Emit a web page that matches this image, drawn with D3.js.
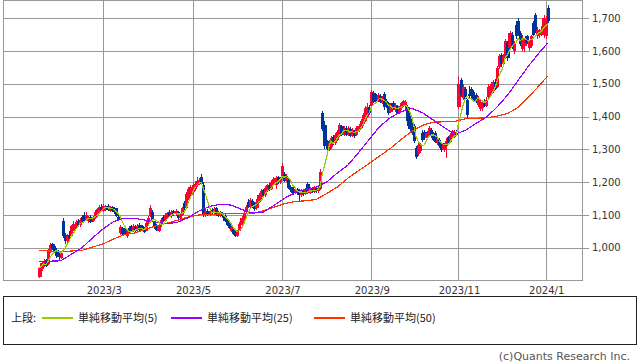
<!DOCTYPE html>
<html>
<head>
<meta charset="utf-8">
<script src="https://cdn.jsdelivr.net/npm/d3@7"></script>
<style>
  body { margin: 0; background: #fff; }
  svg { display: block; }
</style>
</head>
<body>
<div id="chart"></div>
<script>
// trading sessions: weekdays from startDate to endDate minus TSE holidays
const startDate = "2023-01-17";
const endDate = "2024-01-05";
const holidays = ["2023-02-23", "2023-03-21", "2023-05-03", "2023-05-04", "2023-05-05",
  "2023-07-17", "2023-08-11", "2023-09-18", "2023-10-09", "2023-11-03", "2023-11-23",
  "2024-01-01", "2024-01-02", "2024-01-03"];

const opens = [912,935,945,962,950,990,1010,1005,992,985,970,1080,1040,1020,1040,1035,1055,1062,1080,1068,
  1095,1100,1085,1080,1095,1080,1092,1100,1110,1125,1112,1118,1128,1112,1125,1118,1120,1095,1045,1060,
  1058,1035,1060,1065,1050,1062,1055,1070,1066,1058,1052,1072,1098,1108,1078,1068,1052,1068,1095,1082,
  1092,1110,1096,1112,1102,1110,1090,1100,1135,1122,1150,1160,1170,1180,1190,1195,1215,1190,1100,1112,
  1100,1115,1105,1120,1108,1098,1105,1098,1085,1075,1052,1058,1048,1036,1052,1068,1088,1108,1140,1128,
  1142,1132,1120,1138,1155,1175,1160,1175,1190,1180,1195,1192,1215,1200,1215,1225,1205,1208,1185,1180,
  1168,1178,1172,1160,1175,1165,1195,1168,1180,1170,1182,1172,1180,1412,1375,1325,1298,1308,1338,1318,
  1330,1342,1370,1345,1365,1345,1362,1342,1355,1345,1358,1366,1376,1388,1400,1430,1432,1472,1465,1448,
  1462,1442,1468,1448,1440,1415,1440,1420,1432,1412,1425,1432,1435,1430,1395,1375,1370,1305,1285,1295,
  1350,1352,1335,1345,1360,1345,1350,1318,1330,1318,1298,1310,1338,1322,1336,1338,1350,1430,1512,1458,
  1485,1450,1470,1485,1475,1465,1435,1422,1425,1448,1432,1460,1470,1478,1505,1490,1550,1588,1560,1582,
  1625,1610,1650,1600,1680,1692,1655,1605,1615,1645,1608,1615,1685,1710,1645,1648,1650,1650,1645,1730];
const highs = [941,956,965,966,995,1015,1015,1010,998,990,990,1090,1045,1042,1050,1070,1080,1085,1088,1092,
  1100,1108,1108,1098,1100,1096,1115,1122,1130,1132,1133,1130,1132,1127,1128,1124,1122,1100,1068,1064,
  1066,1055,1065,1070,1072,1068,1072,1076,1070,1062,1080,1098,1130,1115,1082,1072,1072,1092,1100,1106,
  1110,1115,1114,1116,1118,1112,1106,1125,1142,1170,1185,1190,1198,1205,1215,1212,1225,1200,1118,1118,
  1120,1120,1125,1125,1112,1112,1110,1102,1090,1080,1068,1062,1052,1055,1078,1096,1112,1130,1148,1152,
  1150,1140,1148,1168,1178,1180,1188,1195,1196,1206,1215,1220,1220,1215,1258,1230,1225,1212,1192,1185,
  1182,1182,1180,1180,1180,1182,1200,1185,1186,1188,1188,1188,1240,1418,1385,1330,1328,1340,1345,1350,
  1360,1380,1375,1372,1370,1372,1368,1365,1360,1370,1378,1392,1412,1432,1440,1436,1482,1478,1470,1472,
  1468,1462,1474,1455,1445,1440,1448,1442,1436,1432,1445,1452,1450,1435,1405,1385,1378,1310,1318,1320,
  1358,1358,1356,1370,1365,1352,1355,1338,1335,1322,1320,1335,1342,1350,1360,1358,1358,1522,1518,1498,
  1490,1455,1492,1490,1480,1472,1462,1455,1448,1455,1460,1498,1500,1512,1515,1555,1592,1595,1590,1638,
  1630,1662,1658,1632,1690,1700,1660,1648,1640,1650,1635,1650,1692,1715,1672,1668,1675,1710,1708,1740];
const lows = [908,930,940,940,948,985,993,985,968,962,965,1030,1012,1015,1025,1032,1050,1058,1062,1063,
  1078,1082,1080,1075,1075,1078,1088,1095,1105,1110,1108,1112,1112,1108,1108,1104,1095,1080,1038,1036,
  1040,1030,1042,1048,1048,1048,1050,1052,1050,1045,1050,1068,1095,1080,1058,1050,1048,1064,1078,1078,
  1088,1094,1092,1098,1098,1085,1086,1098,1115,1118,1145,1155,1165,1172,1185,1190,1190,1095,1095,1096,
  1096,1100,1102,1098,1094,1094,1092,1078,1066,1056,1048,1038,1032,1033,1050,1064,1085,1105,1120,1122,
  1122,1112,1115,1135,1150,1155,1156,1170,1172,1176,1190,1180,1195,1195,1212,1200,1200,1178,1170,1162,
  1164,1162,1138,1156,1158,1160,1165,1164,1168,1166,1168,1168,1176,1355,1300,1292,1294,1302,1312,1312,
  1325,1338,1340,1340,1340,1342,1338,1338,1336,1342,1352,1362,1372,1384,1395,1405,1428,1440,1445,1444,
  1440,1438,1420,1425,1405,1410,1420,1415,1408,1408,1420,1428,1418,1372,1355,1345,1318,1272,1280,1290,
  1322,1330,1330,1340,1335,1325,1318,1312,1305,1292,1292,1275,1318,1318,1332,1334,1340,1422,1460,1450,
  1450,1395,1455,1456,1450,1442,1428,1418,1418,1428,1428,1455,1465,1472,1480,1486,1545,1550,1552,1578,
  1570,1605,1605,1592,1638,1645,1615,1600,1598,1620,1600,1610,1645,1655,1638,1640,1645,1640,1638,1685];
const closes = [938,952,960,945,990,1008,998,990,975,972,985,1035,1020,1035,1030,1065,1072,1078,1068,1085,
  1080,1088,1100,1095,1078,1092,1108,1118,1125,1115,1128,1125,1115,1122,1112,1108,1098,1084,1062,1042,
  1045,1050,1048,1052,1065,1052,1065,1058,1055,1048,1075,1092,1120,1085,1062,1055,1068,1085,1082,1100,
  1105,1098,1110,1102,1112,1090,1100,1120,1120,1165,1180,1185,1190,1195,1205,1208,1195,1100,1112,1100,
  1112,1105,1118,1102,1098,1108,1096,1082,1070,1060,1062,1042,1036,1050,1072,1090,1105,1125,1125,1145,
  1128,1118,1140,1162,1172,1160,1182,1190,1178,1200,1210,1212,1200,1210,1250,1205,1220,1182,1175,1168,
  1178,1168,1160,1175,1165,1178,1170,1178,1172,1182,1172,1182,1232,1362,1310,1300,1320,1335,1318,1345,
  1352,1375,1345,1365,1345,1365,1342,1358,1342,1365,1372,1388,1405,1425,1430,1410,1475,1445,1450,1465,
  1445,1458,1428,1432,1412,1435,1425,1435,1412,1428,1440,1448,1445,1385,1362,1350,1325,1278,1312,1315,
  1328,1335,1350,1365,1340,1330,1322,1332,1310,1298,1315,1325,1322,1345,1355,1352,1345,1500,1465,1490,
  1455,1405,1462,1462,1455,1448,1455,1445,1440,1432,1452,1490,1492,1505,1485,1548,1585,1560,1585,1630,
  1580,1655,1615,1625,1645,1650,1622,1640,1635,1625,1630,1645,1650,1665,1665,1655,1665,1702,1700,1690];

// 25 / 50 session averages every 5 sessions (last one at the final session)
const ma25 = [959,959,960,980,1000,1030,1058,1080,1090,1089,1084,1078,1073,1078,1092,1112,1126,1133,1130,1117,
  1106,1108,1128,1150,1168,1178,1184,1200,1228,1252,1290,1330,1370,1397,1415,1425,1412,1390,1368,1346,
  1357,1378,1398,1428,1465,1510,1555,1595,1625];
const ma50 = [991,990,988,990,992,1002,1012,1027,1040,1045,1057,1067,1075,1084,1094,1100,1101,1103,1104,1104,
  1104,1112,1123,1134,1141,1143,1147,1165,1185,1212,1235,1257,1280,1303,1330,1355,1373,1383,1384,1385,
  1393,1395,1396,1401,1409,1428,1460,1495,1524];

const yTicks = [1000, 1100, 1200, 1300, 1400, 1500, 1600, 1700];
const tickMonths = [3, 5, 7, 9, 11, 1];

const upColor = "#ff0033";
const downColor = "#003399";
const lineColors = { ma5: "#99cc00", ma25: "#9900ff", ma50: "#ff3300" };

const W = 638, H = 362;
const plot = { left: 3.5, right: 582.5, top: 0.5, bottom: 280.5 };

const fmt = d3.timeFormat("%Y-%m-%d");
const parse = d3.timeParse("%Y-%m-%d");
const dates = d3.timeDay.range(parse(startDate), d3.timeDay.offset(parse(endDate), 1))
  .filter((d) => d.getDay() !== 0 && d.getDay() !== 6 && !holidays.includes(fmt(d)));

const data = dates.map((d, i) => ({
  i, date: d, open: opens[i], high: highs[i], low: lows[i], close: closes[i]
}));

const ma5 = data.map((d, i) => {
  const w = closes.slice(Math.max(0, i - 4), i + 1);
  return { i, v: d3.mean(w) };
});
const maIdx = d3.range(0, data.length, 5).concat(data.length - 1);
const ma25pts = maIdx.map((i, k) => ({ i, v: ma25[k] }));
const ma50pts = maIdx.map((i, k) => ({ i, v: ma50[k] }));

const x = d3.scaleLinear().domain([-16.9, 255.3]).range([plot.left, plot.right]);
const y = d3.scaleLinear().domain([900, 1754]).range([plot.bottom, plot.top]);

const svg = d3.select("#chart").append("svg")
  .attr("width", W).attr("height", H)
  .style("font-family", "'DejaVu Sans', sans-serif");

// grid
const grid = svg.append("g").attr("stroke", "#999").attr("stroke-width", 1)
  .attr("shape-rendering", "crispEdges");
grid.selectAll(".h").data(yTicks).enter().append("line")
  .attr("x1", plot.left).attr("x2", plot.right + 6)
  .attr("y1", (d) => Math.round(y(d)) + 0.5).attr("y2", (d) => Math.round(y(d)) + 0.5);

const monthTicks = data.filter((d, i) => i > 0 &&
  d.date.getMonth() !== data[i - 1].date.getMonth() &&
  tickMonths.includes(d.date.getMonth() + 1));
grid.selectAll(".v").data(monthTicks).enter().append("line")
  .attr("x1", (d) => Math.round(x(d.i)) + 0.5).attr("x2", (d) => Math.round(x(d.i)) + 0.5)
  .attr("y1", plot.top).attr("y2", plot.bottom);

svg.append("rect")
  .attr("x", plot.left).attr("y", plot.top)
  .attr("width", plot.right - plot.left).attr("height", plot.bottom - plot.top)
  .attr("fill", "none").attr("stroke", "#999").attr("shape-rendering", "crispEdges");

// axis labels
svg.append("g").selectAll("text").data(yTicks).enter().append("text")
  .attr("x", 592).attr("y", (d) => y(d) + 3.6)
  .attr("font-size", 10).attr("fill", "#333")
  .text((d) => d3.format(",")(d));

svg.append("g").selectAll("text").data(monthTicks).enter().append("text")
  .attr("x", (d) => x(d.i) + 1).attr("y", 294)
  .attr("text-anchor", "middle").attr("font-size", 10).attr("fill", "#333")
  .text((d) => `${d.date.getFullYear()}/${d.date.getMonth() + 1}`);

// candles
const candles = svg.append("g").attr("shape-rendering", "crispEdges");
const c = candles.selectAll("g").data(data).enter().append("g")
  .attr("fill", (d) => (d.close >= d.open ? upColor : downColor))
  .attr("stroke", (d) => (d.close >= d.open ? upColor : downColor));
c.append("line")
  .attr("x1", (d) => Math.round(x(d.i)) + 0.5).attr("x2", (d) => Math.round(x(d.i)) + 0.5)
  .attr("y1", (d) => y(d.high)).attr("y2", (d) => y(d.low));
c.append("rect")
  .attr("stroke", "none")
  .attr("x", (d) => Math.round(x(d.i) - 1.1))
  .attr("width", (d) => Math.round(x(d.i) + 1.1) - Math.round(x(d.i) - 1.1) + 1)
  .attr("y", (d) => y(Math.max(d.open, d.close)))
  .attr("height", (d) => Math.max(1, Math.abs(y(d.open) - y(d.close))));

// moving averages
const line = d3.line().x((d) => x(d.i)).y((d) => y(d.v));
[[ma50pts, lineColors.ma50], [ma25pts, lineColors.ma25], [ma5, lineColors.ma5]].forEach(([pts, col]) => {
  svg.append("path").datum(pts)
    .attr("fill", "none").attr("stroke", col).attr("stroke-width", 1.2)
    .attr("shape-rendering", "crispEdges")
    .attr("d", line);
});

// legend
const lg = svg.append("g").style("font-family", "'Noto Sans CJK JP', sans-serif");
lg.append("rect").attr("x", 3.5).attr("y", 296.5).attr("width", 633).attr("height", 48)
  .attr("fill", "none").attr("stroke", "#222").attr("shape-rendering", "crispEdges");
lg.append("text").attr("x", 11).attr("y", 321.5).attr("font-size", 11).attr("fill", "#222").text("上段:");
const legendItems = [
  { label: "単純移動平均(5)", color: lineColors.ma5, x: 42 },
  { label: "単純移動平均(25)", color: lineColors.ma25, x: 171 },
  { label: "単純移動平均(50)", color: lineColors.ma50, x: 314 }
];
legendItems.forEach((d) => {
  lg.append("rect").attr("x", d.x).attr("y", 317).attr("width", 31).attr("height", 2)
    .attr("fill", d.color).attr("shape-rendering", "crispEdges");
  lg.append("text").attr("x", d.x + 36).attr("y", 321.5)
    .attr("font-size", 11).attr("fill", "#222").text(d.label);
});

svg.append("text").attr("x", 630).attr("y", 360).attr("text-anchor", "end")
  .attr("font-size", 11).attr("fill", "#555")
  .style("font-family", "'DejaVu Sans', sans-serif")
  .text("(c)Quants Research Inc.");
</script>
</body>
</html>
